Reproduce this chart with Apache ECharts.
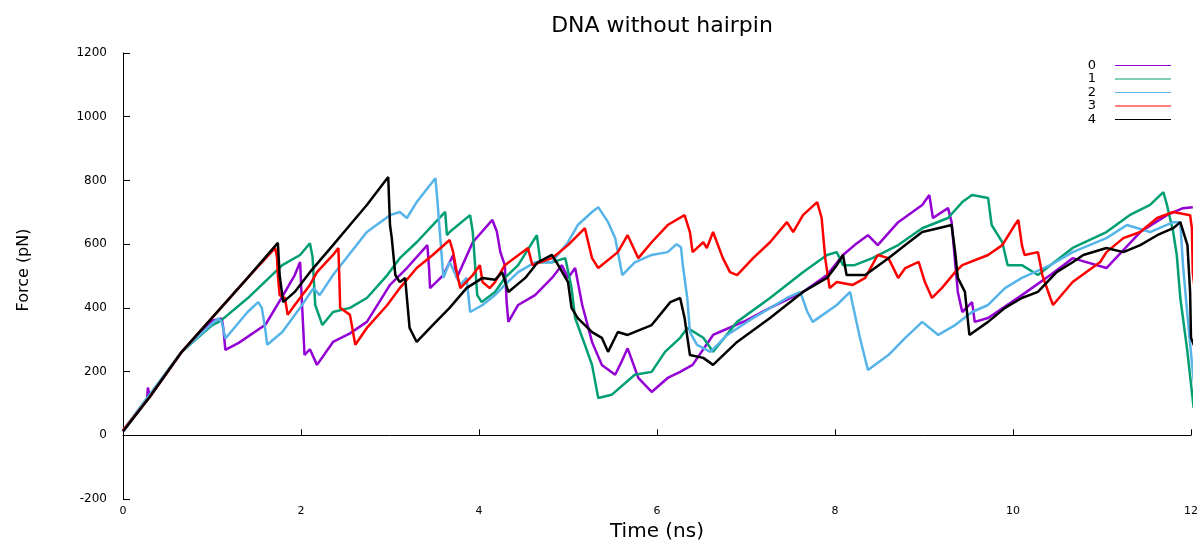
<!DOCTYPE html>
<html><head><meta charset="utf-8">
<script src="https://cdn.jsdelivr.net/npm/echarts/dist/echarts.min.js"></script>
<style>html,body{margin:0;padding:0;background:#fff}#c{width:1204px;height:540px}</style>
</head><body><div id="c"></div>
<script>
// ---- data (Time in ns, Force in pN) ----
const seriesNames = ['0', '1', '2', '3', '4'];
const xTicks = [0, 2, 4, 6, 8, 10, 12];
const yTicks = [-200, 0, 200, 400, 600, 800, 1000, 1200];

const run0 = [[0,12],[0.27,112],[0.28,150],[0.3,120],[0.66,262],[1.0,360],[1.11,367],[1.13,330],[1.15,268],[1.3,290],[1.6,347],[1.8,440],[1.93,503],[1.99,544],[2.01,420],[2.04,252],[2.1,270],[2.18,221],[2.36,293],[2.55,320],[2.74,356],[3.0,472],[3.19,525],[3.42,597],[3.44,520],[3.45,462],[3.6,503],[3.71,566],[3.75,494],[3.93,606],[4.15,676],[4.2,640],[4.24,575],[4.29,534],[4.31,420],[4.33,356],[4.44,409],[4.63,440],[4.82,494],[4.93,534],[5.0,494],[5.08,525],[5.16,409],[5.27,293],[5.38,221],[5.53,190],[5.6,230],[5.67,273],[5.79,180],[5.94,136],[6.12,180],[6.26,199],[6.4,221],[6.63,315],[6.71,325],[7.0,360],[7.27,400],[7.64,450],[7.91,503],[8.09,566],[8.22,597],[8.37,628],[8.48,597],[8.71,669],[8.98,723],[9.06,754],[9.1,682],[9.27,713],[9.31,669],[9.35,543],[9.38,450],[9.43,387],[9.54,418],[9.57,356],[9.72,368],[10.1,440],[10.42,503],[10.67,556],[11.05,525],[11.43,638],[11.73,691],[11.91,713],[12.02,716]];

const run1 = [[0,15],[0.66,262],[1.0,345],[1.1,360],[1.4,430],[1.79,534],[1.99,566],[2.1,603],[2.13,560],[2.16,409],[2.24,346],[2.36,387],[2.55,400],[2.74,431],[2.97,503],[3.11,556],[3.3,606],[3.48,660],[3.62,701],[3.64,628],[3.67,638],[3.9,691],[3.93,638],[3.98,440],[4.03,418],[4.18,450],[4.29,494],[4.44,534],[4.6,606],[4.65,628],[4.69,543],[4.82,543],[4.97,556],[5.04,462],[5.08,368],[5.19,284],[5.27,221],[5.34,117],[5.49,127],[5.75,190],[5.94,199],[6.09,262],[6.26,306],[6.34,337],[6.52,306],[6.63,262],[6.9,356],[7.27,431],[7.64,512],[7.91,566],[8.02,575],[8.09,534],[8.22,534],[8.42,556],[8.71,597],[8.98,650],[9.27,682],[9.43,732],[9.54,754],[9.72,745],[9.76,660],[9.88,606],[9.94,534],[10.1,534],[10.28,503],[10.42,534],[10.67,588],[11.05,638],[11.31,691],[11.54,723],[11.69,763],[11.73,723],[11.8,638],[11.84,566],[11.88,431],[11.96,262],[12.01,136],[12.03,86]];

const run2 = [[0,15],[0.66,262],[1.0,350],[1.07,367],[1.11,355],[1.15,304],[1.4,387],[1.52,418],[1.56,400],[1.6,330],[1.62,284],[1.79,324],[1.99,400],[2.14,462],[2.21,440],[2.36,503],[2.74,638],[3.0,691],[3.11,701],[3.19,682],[3.3,732],[3.51,807],[3.53,745],[3.56,638],[3.6,494],[3.67,544],[3.79,472],[3.86,494],[3.9,387],[4.04,409],[4.18,440],[4.29,472],[4.44,512],[4.63,543],[4.82,543],[5.0,606],[5.11,660],[5.27,701],[5.34,716],[5.45,669],[5.53,619],[5.61,503],[5.75,543],[5.94,566],[6.12,575],[6.22,600],[6.27,590],[6.29,534],[6.34,431],[6.37,324],[6.45,284],[6.6,262],[6.79,315],[7.08,368],[7.46,431],[7.61,450],[7.69,387],[7.75,356],[8.02,409],[8.17,450],[8.2,409],[8.28,306],[8.37,205],[8.6,252],[8.79,306],[8.98,356],[9.16,315],[9.35,346],[9.54,387],[9.72,409],[9.91,462],[10.1,494],[10.42,534],[10.67,575],[11.05,619],[11.28,660],[11.54,638],[11.8,669],[11.88,669],[11.91,534],[11.96,377],[12.02,199],[12.04,152]];

const run3 = [[0,15],[0.3,120],[0.66,262],[1.03,378],[1.4,494],[1.71,588],[1.73,560],[1.74,503],[1.76,440],[1.82,431],[1.85,378],[1.93,409],[2.1,472],[2.18,512],[2.36,566],[2.42,588],[2.43,503],[2.44,400],[2.55,378],[2.61,284],[2.74,337],[2.97,409],[3.11,462],[3.3,525],[3.48,566],[3.67,613],[3.71,575],[3.75,512],[3.79,462],[3.93,503],[4.01,534],[4.04,481],[4.12,462],[4.18,481],[4.29,534],[4.55,588],[4.6,534],[4.82,556],[5.0,597],[5.19,650],[5.27,556],[5.34,525],[5.56,575],[5.67,628],[5.79,556],[5.94,606],[6.12,660],[6.31,691],[6.37,638],[6.4,575],[6.52,606],[6.56,588],[6.63,638],[6.74,556],[6.82,512],[6.9,503],[7.08,556],[7.27,606],[7.46,669],[7.53,638],[7.64,691],[7.8,732],[7.85,682],[7.89,556],[7.94,462],[8.02,481],[8.2,472],[8.34,494],[8.48,566],[8.6,556],[8.71,494],[8.79,525],[8.94,544],[9.01,481],[9.09,431],[9.2,462],[9.35,512],[9.43,534],[9.72,566],[9.88,597],[10.02,660],[10.06,676],[10.1,597],[10.13,566],[10.28,575],[10.33,503],[10.42,431],[10.45,409],[10.67,481],[10.98,544],[11.05,575],[11.24,619],[11.43,638],[11.62,682],[11.8,701],[11.99,691],[12.01,650],[12.02,512],[12.04,462]];

const run4 = [[0,12],[0.3,120],[0.66,262],[1.03,378],[1.4,494],[1.74,604],[1.76,503],[1.8,418],[1.93,450],[2.1,512],[2.36,597],[2.55,660],[2.74,723],[2.98,811],[3.0,660],[3.02,619],[3.06,503],[3.11,481],[3.17,494],[3.19,431],[3.22,337],[3.3,293],[3.48,346],[3.67,400],[3.86,462],[4.04,494],[4.18,488],[4.26,512],[4.33,450],[4.52,494],[4.66,543],[4.82,566],[4.89,534],[5.0,481],[5.04,400],[5.11,368],[5.27,324],[5.38,306],[5.45,262],[5.56,324],[5.67,315],[5.94,346],[6.15,418],[6.26,431],[6.31,368],[6.37,252],[6.52,243],[6.63,221],[6.9,293],[7.27,368],[7.64,450],[7.91,494],[8.02,534],[8.09,566],[8.13,503],[8.34,503],[8.6,556],[8.79,597],[8.98,638],[9.16,650],[9.31,660],[9.35,575],[9.38,494],[9.46,450],[9.49,368],[9.51,315],[9.72,356],[9.91,400],[10.1,431],[10.28,450],[10.49,512],[10.67,543],[10.79,566],[11.05,588],[11.24,575],[11.43,597],[11.62,628],[11.8,650],[11.88,669],[11.96,597],[11.99,450],[12.0,306],[12.04,278]];

const runs = [run0, run1, run2, run3, run4];
const colors = ['#9400D3', '#009E73', '#56B4E9', '#FF0000', '#000000'];

const chart = echarts.init(document.getElementById('c'), null, {renderer: 'canvas'});
const FONT = '"DejaVu Sans", "Liberation Sans", sans-serif';
chart.setOption({
  animation: false,
  backgroundColor: '#ffffff',
  title: {
    text: 'DNA without hairpin',
    left: 657, top: 10, textAlign: 'center',
    textStyle: {fontFamily: FONT, fontSize: 22, fontWeight: 'normal', color: '#000'}
  },
  legend: {
    data: seriesNames,
    orient: 'vertical', right: 28, top: 54, align: 'right',
    icon: 'rect', itemWidth: 56, itemHeight: 1.2, itemGap: 0.5,
    textStyle: {fontFamily: FONT, fontSize: 13, lineHeight: 13, color: '#000', padding: [0, 14, 0, 0]}
  },
  grid: {left: 123, right: 13, top: 53, bottom: 41, outerBoundsMode: 'none', containLabel: false},
  xAxis: {
    type: 'value', min: xTicks[0], max: xTicks[xTicks.length - 1], interval: 2,
    name: 'Time (ns)', nameLocation: 'middle', nameGap: 18,
    nameTextStyle: {fontFamily: FONT, fontSize: 20, color: '#000'},
    axisLine: {show: true, lineStyle: {color: '#000', width: 1}},
    axisTick: {show: true, inside: true, length: 6, lineStyle: {color: '#000'}},
    axisLabel: {margin: 7, fontFamily: FONT, fontSize: 11, color: '#000', formatter: v => String(v)},
    splitLine: {show: false}
  },
  yAxis: {
    type: 'value', min: yTicks[0], max: yTicks[yTicks.length - 1], interval: 200,
    name: 'Force (pN)', nameLocation: 'middle', nameGap: 91,
    nameTextStyle: {fontFamily: FONT, fontSize: 16, color: '#000', padding: [0, 0, 0, 12]},
    axisLine: {show: true, lineStyle: {color: '#000', width: 1}},
    axisTick: {show: true, inside: true, length: 7, lineStyle: {color: '#000'}},
    axisLabel: {margin: 16, fontFamily: FONT, fontSize: 12, color: '#000', formatter: v => String(v)},
    splitLine: {show: false}
  },
  series: runs.map((d, i) => ({
    name: seriesNames[i], type: 'line', data: d,
    showSymbol: false, symbol: 'none', clip: false,
    color: colors[i],
    lineStyle: {width: 2.5, color: colors[i]},
    emphasis: {disabled: true}
  }))
});
</script></body></html>
